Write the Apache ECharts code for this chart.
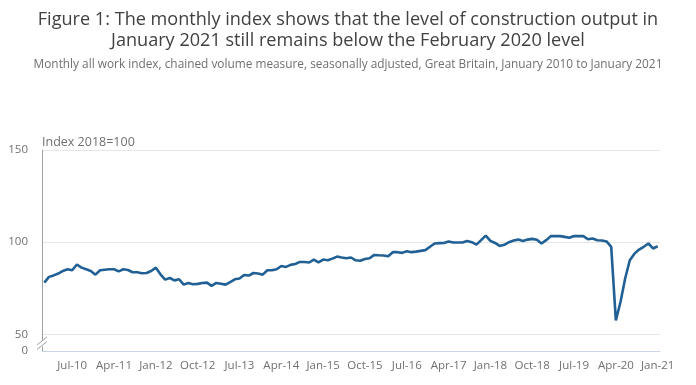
<!DOCTYPE html>
<html>
<head>
<meta charset="utf-8">
<script src="https://cdn.jsdelivr.net/npm/echarts@6/dist/echarts.min.js"></script>
<style>
html,body{margin:0;padding:0;background:#fff;}
#chart{width:696px;height:385px;}
</style>
</head>
<body>
<div id="chart"></div>
<script>
// Months Jan-2010 .. Jan-2021
const monthNames = ['Jan','Feb','Mar','Apr','May','Jun','Jul','Aug','Sep','Oct','Nov','Dec'];
const categories = [];
for (let y = 10; y <= 21; y++) {
  for (let m = 0; m < 12; m++) {
    if (y === 21 && m > 0) break;
    categories.push(monthNames[m] + '-' + y);
  }
}
// All work index, 2018=100
const values = [
  78.1, 81.2, 82.0, 83.0, 84.4, 85.3, 84.8, 87.9, 86.2, 85.3, 84.4, 82.4,
  84.8, 85.1, 85.3, 85.3, 84.2, 85.3, 84.9, 83.7, 83.7, 83.2, 83.3, 84.4,
  86.2, 82.6, 79.7, 80.6, 79.3, 79.9, 77.0, 77.9, 77.2, 77.4, 77.9, 78.1,
  76.3, 77.9, 77.5, 77.0, 78.4, 79.9, 80.3, 82.2, 81.9, 83.3, 83.0, 82.4,
  84.8, 84.8, 85.3, 87.1, 86.6, 87.7, 88.2, 89.3, 89.3, 89.0, 90.6, 89.1,
  90.6, 90.2, 91.1, 92.2, 91.7, 91.3, 91.7, 90.2, 89.9, 90.9, 91.3, 93.1,
  92.9, 92.8, 92.4, 94.6, 94.6, 94.2, 95.1, 94.6, 94.9, 95.3, 95.7, 97.5,
  99.3, 99.5, 99.6, 100.4, 99.8, 99.8, 99.8, 100.7, 100.0, 98.7, 101.1, 103.6,
  100.7, 99.6, 98.0, 98.6, 100.0, 100.9, 101.4, 100.7, 101.4, 101.8, 101.3, 99.3,
  101.1, 103.3, 103.4, 103.3, 102.9, 102.4, 103.4, 103.3, 103.3, 101.6, 102.0, 101.1,
  100.9, 100.4, 97.5, 57.6, 67.6, 80.3, 90.2, 93.8, 96.0, 97.5, 99.3, 96.6,
  97.8
];
const yTicks = [50, 100, 150];
const yLabelValues = [41, 50, 100, 150];
const yBottomLabel = '0';

const chart = echarts.init(document.getElementById('chart'));
const FONT = '"Open Sans", sans-serif';
chart.setOption({
  animation: false,
  backgroundColor: '#ffffff',
  title: [{
    text: 'Figure 1: The monthly index shows that the level of construction output in\nJanuary 2021 still remains below the February 2020 level',
    left: 'center', top: 4,
    textStyle: { fontFamily: FONT, fontSize: 18.1, fontWeight: 'normal', color: '#414042', lineHeight: 21.5 }
  }, {
    text: 'Monthly all work index, chained volume measure, seasonally adjusted, Great Britain, January 2010 to January 2021',
    left: 'center', top: 54,
    textStyle: { fontFamily: FONT, fontSize: 11.85, fontWeight: 'normal', color: '#707070' }
  }],
  grid: { left: 42, right: 36, top: 150, bottom: 34 },
  xAxis: {
    type: 'category',
    data: categories,
    boundaryGap: true,
    axisLine: { lineStyle: { color: '#ccd6eb', width: 1 } },
    axisTick: { alignWithLabel: true, length: 10, interval: (i) => i % 9 === 6, lineStyle: { color: '#ccd6eb' } },
    axisLabel: { interval: (i) => i % 9 === 6, margin: 9, fontFamily: FONT, fontSize: 11.5, color: '#707070' },
    splitLine: { show: false }
  },
  yAxis: {
    type: 'value',
    min: 41, max: 150,
    name: 'Index 2018=100',
    nameLocation: 'end',
    nameGap: 1,
    nameTextStyle: { fontFamily: FONT, fontSize: 12.5, color: '#707070', align: 'left' },
    axisLine: { show: true, lineStyle: { color: '#a0a0a0', width: 1 } },
    axisTick: { show: false, customValues: yTicks },
    axisLabel: {
      customValues: yLabelValues,
      margin: 14,
      fontFamily: FONT, fontSize: 11.5, color: '#707070',
      formatter: (v) => (v === 41 ? yBottomLabel : String(v))
    },
    splitLine: { show: true, lineStyle: { color: '#e6e6e6', width: 1 } }
  },
  series: [{
    type: 'line',
    data: values,
    showSymbol: false,
    lineStyle: { color: '#206095', width: 2.6 },
    itemStyle: { color: '#206095' }
  }]
});

// axis break marker "//" between 0 and 50
const p1 = chart.convertToPixel({ gridIndex: 0 }, [0, 46.5]);
const p2 = chart.convertToPixel({ gridIndex: 0 }, [0, 44]);
const ax = 42;
chart.setOption({
  graphic: [
    { type: 'rect', shape: { x: ax - 1, y: p1[1] - 1, width: 3, height: p2[1] - p1[1] + 2 }, style: { fill: '#ffffff' }, z: 100 },
    { type: 'line', shape: { x1: ax - 5, y1: p1[1] + 4, x2: ax + 5, y2: p1[1] - 4 }, style: { stroke: '#a0a0a0', lineWidth: 1 }, z: 101 },
    { type: 'line', shape: { x1: ax - 5, y1: p2[1] + 4, x2: ax + 5, y2: p2[1] - 4 }, style: { stroke: '#a0a0a0', lineWidth: 1 }, z: 101 }
  ]
});
</script>
</body>
</html>
